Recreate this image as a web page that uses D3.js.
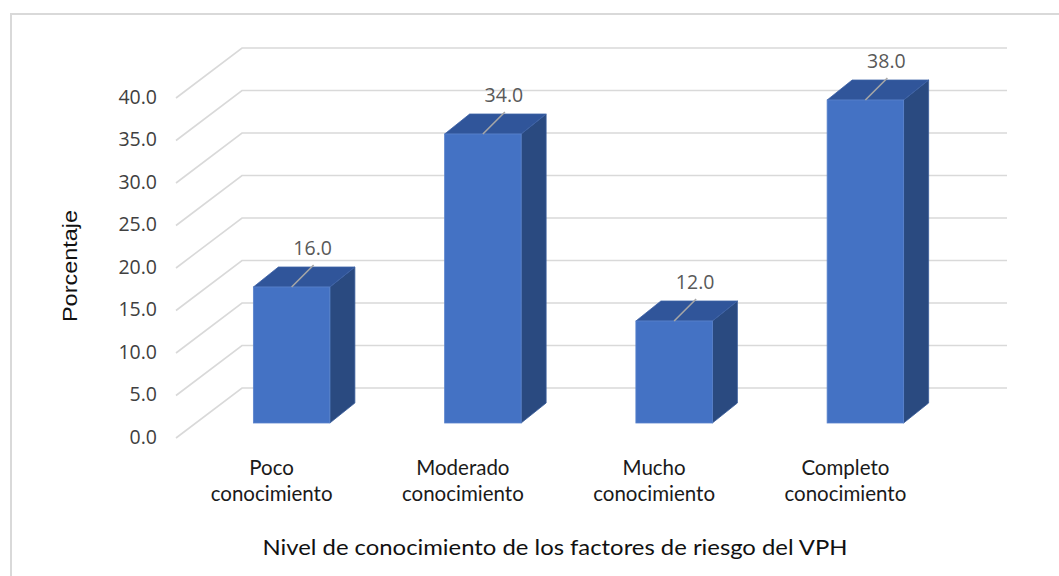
<!DOCTYPE html>
<html>
<head>
<meta charset="utf-8">
<script src="https://cdn.jsdelivr.net/npm/d3@7/dist/d3.min.js"></script>
<style>
  html, body { margin: 0; padding: 0; background: #fff; }
  svg { display: block; }
</style>
</head>
<body>
<svg id="chart" width="1059" height="576"></svg>
<script>
// ---- data ----
const categories = [
  ["Poco", "conocimiento"],
  ["Moderado", "conocimiento"],
  ["Mucho", "conocimiento"],
  ["Completo", "conocimiento"]
];
const values = [16.0, 34.0, 12.0, 38.0];
const yTicks = [0, 5, 10, 15, 20, 25, 30, 35, 40];
const yTitle = "Porcentaje";
const xTitle = "Nivel de conocimiento de los factores de riesgo del VPH";

// ---- layout ----
const svg = d3.select("#chart");
const W = 1059, H = 576;

// chart border
svg.append("rect").attr("x", 11).attr("y", 14).attr("width", 1100).attr("height", 700)
  .attr("fill", "none").attr("stroke", "#d9d9d9").attr("stroke-width", 2);

const floorDX = 66, floorDY = 50;   // depth of floor (front -> back wall)
const barOffX = 20, barOffY = 15;   // bar front plane offset from front
const barDX = 25, barDY = 20;       // bar depth

const keys = categories.map((c, i) => i);
const x = d3.scaleBand().domain(keys).range([176, 941]).paddingInner(0.6).paddingOuter(0.3);
const y = d3.scaleLinear().domain([0, 40]).range([438, 98]);

// gridlines: diagonal on left wall + horizontal on back wall
const grid = svg.append("g").attr("stroke", "#d9d9d9").attr("stroke-width", 1.6).attr("fill", "none");
yTicks.forEach(t => {
  const yf = y(t);
  grid.append("path")
    .attr("d", `M${176},${yf} L${176 + floorDX},${yf - floorDY} L${941 + floorDX},${yf - floorDY}`);
});

// y axis labels
const yAxis = d3.axisLeft(y).tickValues(yTicks).tickFormat(d3.format(".1f")).tickSize(0).tickPadding(0);
const ya = svg.append("g").attr("transform", "translate(157,-1)").call(yAxis);
ya.select(".domain").remove();
ya.selectAll("text").attr("font-family", "'Open Sans', 'Noto Sans', sans-serif")
  .attr("font-size", 19.5).attr("fill", "#404040");

// bars
const bars = svg.append("g");
values.forEach((v, i) => {
  const x0 = x(i) + barOffX, x1 = x0 + x.bandwidth();
  const yb = y(0) - barOffY, yt = y(v) - barOffY;
  // side
  bars.append("path")
    .attr("d", `M${x1},${yb} L${x1 + barDX},${yb - barDY} L${x1 + barDX},${yt - barDY} L${x1},${yt} Z`)
    .attr("fill", "#2a4a80").attr("stroke", "#3a5d9a").attr("stroke-width", 0.8);
  // top
  bars.append("path")
    .attr("d", `M${x0},${yt} L${x0 + barDX},${yt - barDY} L${x1 + barDX},${yt - barDY} L${x1},${yt} Z`)
    .attr("fill", "#30559a").attr("stroke", "#3d62a6").attr("stroke-width", 0.8);
  // front
  bars.append("rect")
    .attr("x", x0).attr("y", yt).attr("width", x.bandwidth()).attr("height", yb - yt)
    .attr("fill", "#4472c4").attr("stroke", "#5a83cc").attr("stroke-width", 0.8);
  // leader line + label
  const cx = (x0 + x1) / 2;
  bars.append("line")
    .attr("x1", cx).attr("y1", yt).attr("x2", cx + 22).attr("y2", yt - 22)
    .attr("stroke", "#a6a6a6").attr("stroke-width", 1.6);
  bars.append("text")
    .attr("x", cx + 21).attr("y", yt - 32)
    .attr("text-anchor", "middle")
    .attr("font-family", "'Open Sans', 'Noto Sans', sans-serif")
    .attr("font-size", 19.5).attr("fill", "#595959")
    .text(d3.format(".1f")(v));
});

// category labels
const cl = svg.append("g");
categories.forEach((lines, i) => {
  const cx = x(i) + x.bandwidth() / 2;
  const t = cl.append("text").attr("text-anchor", "middle")
    .attr("font-family", "Lato, 'Open Sans', sans-serif").attr("font-size", 20.5).attr("fill", "#1a1a1a");
  lines.forEach((ln, j) => {
    t.append("tspan").attr("x", cx).attr("y", 475 + j * 26).text(ln);
  });
});

// axis titles
svg.append("text")
  .attr("x", 555).attr("y", 555).attr("text-anchor", "middle")
  .attr("font-family", "Lato, 'Open Sans', sans-serif").attr("font-size", 21.5).attr("fill", "#111")
  .attr("textLength", 585).attr("lengthAdjust", "spacingAndGlyphs")
  .text(xTitle);

svg.append("text")
  .attr("transform", "translate(77,266) rotate(-90)").attr("text-anchor", "middle")
  .attr("font-family", "'Liberation Sans', Arial, sans-serif").attr("font-size", 20).attr("fill", "#111")
  .attr("textLength", 112).attr("lengthAdjust", "spacingAndGlyphs")
  .text(yTitle);
</script>
</body>
</html>
